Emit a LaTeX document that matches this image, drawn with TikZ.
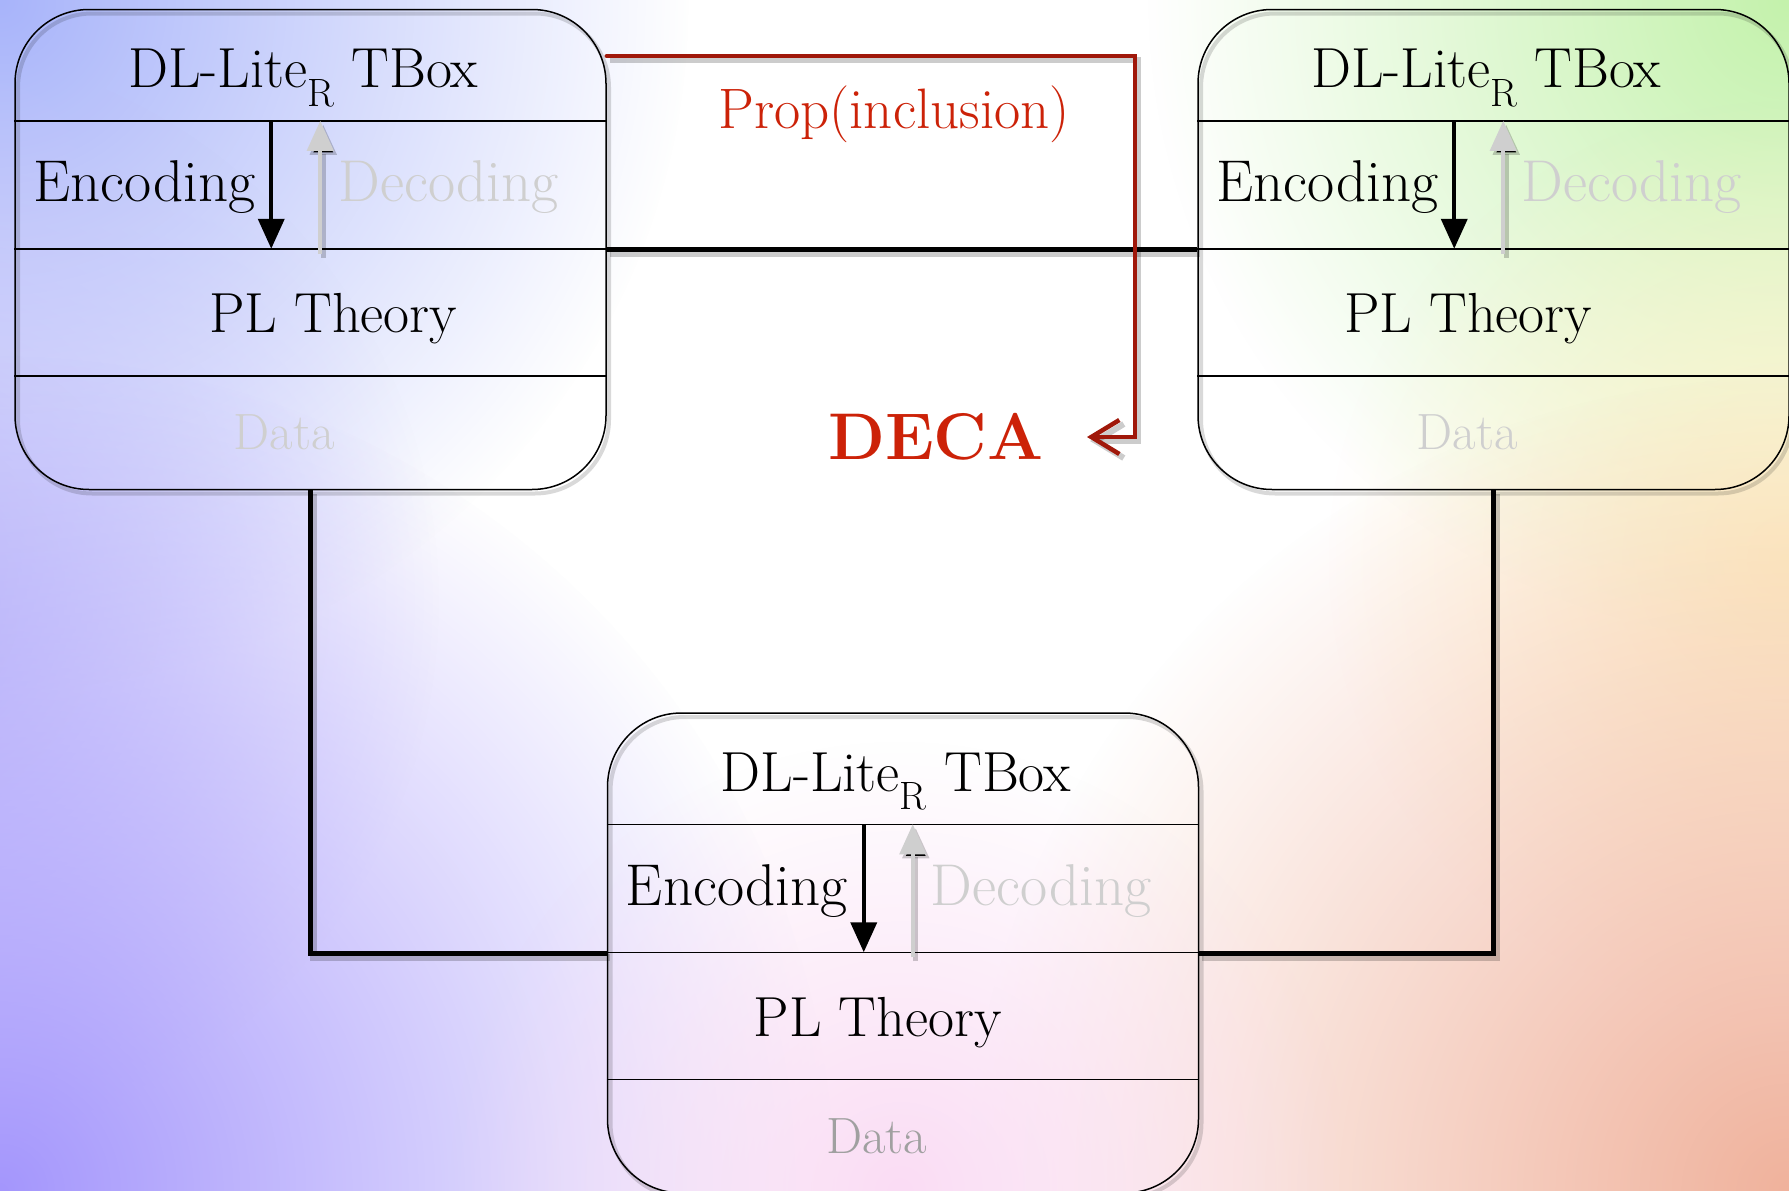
\documentclass[tikz,border=0pt]{standalone}
\usepackage{fontspec}
\usetikzlibrary{arrows.meta,fadings,calc}
\definecolor{bgblue}{HTML}{A8B4FA}
\definecolor{bgpurple}{HTML}{A496FC}
\definecolor{bglav}{HTML}{C4C2FA}
\definecolor{bggreen}{HTML}{C4F2AC}
\definecolor{bgyellow}{HTML}{FFF2C8}
\definecolor{bgsalmon}{HTML}{F0B29C}
\definecolor{bgpink}{HTML}{FADCF4}
\definecolor{decared}{HTML}{CC2208}
\definecolor{redline}{HTML}{A0180A}
\definecolor{lightgray}{HTML}{CFCFCF}
\definecolor{datagray}{HTML}{A0A0A0}
\tikzfading[name=blobfade, inner color=transparent!0, outer color=transparent!100]
\newcommand\titlefont{\fontsize{56.5}{62}\selectfont}
\newcommand\codefont{\fontsize{59}{64}\selectfont}
\newcommand\plfont{\fontsize{56.5}{62}\selectfont}
\newcommand\datafont{\fontsize{51}{56}\selectfont}
\newcommand\propfont{\fontsize{57}{62}\selectfont}
\newcommand\decafont{\fontsize{66}{72}\selectfont\bfseries}
\tikzset{
  box/.style={draw, line width=1.5pt, rounded corners=74pt, minimum width=591pt,
    minimum height=480pt, inner sep=0pt,
    preaction={draw=black, draw opacity=0.15, line width=4pt, transform canvas={shift={(3pt,-4pt)}}}},
  divider/.style={draw, line width=1.5pt},
  lshadow/.style={preaction={draw=black, draw opacity=0.2, line width=#1, transform canvas={shift={(3pt,-4pt)}}}},
  conn/.style={draw=black, line width=5pt, lshadow=7pt},
  redconn/.style={draw=redline, line width=4.5pt, lshadow=6pt},
  encarrow/.style={draw=black, line width=4pt, -{Triangle[length=30pt,width=26pt]}},
  decarrow/.style={draw=lightgray, line width=4pt, -{Triangle[length=30pt,width=26pt]}, lshadow=5pt},
  txt/.style={inner sep=0pt, anchor=base}
}
\begin{document}
\begin{tikzpicture}[x=1pt,y=-1pt]
\useasboundingbox (0,0) rectangle (1789,1191);
% background
\begin{scope}
\clip (0,0) rectangle (1789,1191);
\fill[white] (0,0) rectangle (1789,1191);
\fill[bgblue, path fading=blobfade] (0,0) circle (690pt);
\fill[bglav, path fading=blobfade] (-120,600) circle (560pt);
\fill[bgpurple, path fading=blobfade] (0,1191) circle (840pt);
\fill[bggreen, path fading=blobfade] (1789,0) circle (640pt);
\fill[bgyellow, path fading=blobfade] (1789,560) circle (460pt);
\fill[bgsalmon, path fading=blobfade] (1789,1191) circle (820pt);
\fill[bgpink, path fading=blobfade] (900,1191) circle (450pt);
\end{scope}
% boxes
\node[box] (L) at (310.5,249.5) {};
\node[box] (R) at (1493.5,249.5) {};
\node[box] (B) at (903,953) {};
\foreach \b/\plx/\dcol in {L/319/lightgray, R/271/lightgray, B/271/datagray} {
  \draw[divider] ($(\b.north west)+(0,112)$) -- ($(\b.north east)+(0,112)$);
  \draw[divider] ($(\b.north west)+(0,240)$) -- ($(\b.north east)+(0,240)$);
  \draw[divider] ($(\b.north west)+(0,367)$) -- ($(\b.north east)+(0,367)$);
  \node[txt, font=\titlefont] (\b-title) at ($(\b.north west)+(289,79)$) {DL-Lite\textsubscript{R} TBox};
  \node[txt, font=\codefont, anchor=base west] (\b-enc) at ($(\b.north west)+(19,193)$) {Encoding};
  \node[txt, font=\codefont, anchor=base west, text=lightgray] (\b-dec) at ($(\b.north west)+(324,193)$) {Decoding};
  \node[txt, font=\plfont] (\b-pl) at ($(\b.north west)+(\plx,324)$) {PL Theory};
  \node[txt, font=\datafont, text=\dcol] (\b-data) at ($(\b.north west)+(270,441)$) {Data};
  \coordinate (\b-e1) at ($(\b.north west)+(257,112)$);
  \coordinate (\b-e2) at ($(\b.north west)+(257,240)$);
  \coordinate (\b-d1) at ($(\b.north west)+(306,245)$);
  \coordinate (\b-d2) at ($(\b.north west)+(306,112)$);
  \draw[decarrow] (\b-d1) -- (\b-d2);
  \draw[encarrow] (\b-e1) -- (\b-e2);
}
% connectors
\draw[conn] (L.east) -- (R.west);
\draw[conn] (L.south) |- (B.west);
\draw[conn] (R.south) |- (B.east);
% red
\node[txt, font=\propfont, text=decared] (prop) at (894,128) {Prop(inclusion)};
\node[inner sep=0pt, font=\decafont, text=decared] (DECA) at (936,437) {DECA};
\coordinate (redstart) at (L.east |- 0,56);
\coordinate (redcorner) at (1135,56);
\coordinate (decain) at (1087,437);
\draw[redconn, line cap=round, line join=miter, -{Straight Barb[length=28pt,width=34pt]}] (redstart) -- (redcorner) |- (decain);
\end{tikzpicture}
\end{document}
